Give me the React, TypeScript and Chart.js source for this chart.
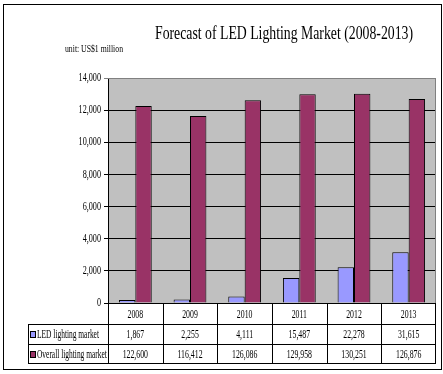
import React, { useEffect, useRef } from "react";
import { Chart, registerables } from "chart.js";

Chart.register(...registerables);

const titleText = "Forecast of LED Lighting Market (2008-2013)";
const unitText = "unit: US$1 million";
const years = ["2008", "2009", "2010", "2011", "2012", "2013"];
const seriesNames = ["LED lighting market", "Overall lighting market"];
const ledValues = [186.7, 225.5, 411.1, 1548.7, 2227.8, 3161.5];
const overallValues = [12260, 11641.2, 12608.6, 12995.8, 13025.1, 12687.6];
const ledLabels = ["1,867", "2,255", "4,111", "15,487", "22,278", "31,615"];
const overallLabels = ["122,600", "116,412", "126,086", "129,958", "130,251", "126,876"];
const yMin = 0;
const yMax = 14000;
const yStep = 2000;

const LED_COLOR = "#9999FF";
const OVERALL_COLOR = "#993366";
const FONT = '"Liberation Serif", "Times New Roman", serif';

function drawText(
  ctx: CanvasRenderingContext2D,
  s: string,
  x: number,
  y: number,
  align: CanvasTextAlign,
  size: number,
  sx: number
) {
  ctx.save();
  ctx.font = `${size}px ${FONT}`;
  ctx.fillStyle = "#000";
  ctx.textBaseline = "middle";
  ctx.textAlign = align;
  ctx.translate(x, y);
  ctx.scale(sx, 1);
  ctx.fillText(s, 0, 0);
  ctx.restore();
}

function drawFitted(
  ctx: CanvasRenderingContext2D,
  s: string,
  cx: number,
  y: number,
  size: number,
  width: number
) {
  ctx.save();
  ctx.font = `${size}px ${FONT}`;
  const w = ctx.measureText(s).width;
  ctx.restore();
  drawText(ctx, s, cx, y, "center", size, width / w);
}

const decorPlugin = {
  id: "decor",
  beforeDraw(chart: any) {
    const { ctx, chartArea: a } = chart;
    ctx.save();
    ctx.fillStyle = "#fff";
    ctx.fillRect(0, 0, chart.width, chart.height);
    ctx.fillStyle = "#C0C0C0";
    ctx.fillRect(a.left, a.top, a.right - a.left, a.bottom - a.top);
    ctx.restore();
  },
  beforeDatasetsDraw(chart: any) {
    const { ctx, chartArea: a } = chart;
    ctx.save();
    ctx.strokeStyle = "#808080";
    ctx.lineWidth = 1;
    ctx.beginPath();
    ctx.moveTo(a.left, Math.round(a.top) + 0.5);
    ctx.lineTo(Math.round(a.right) - 0.5, Math.round(a.top) + 0.5);
    ctx.lineTo(Math.round(a.right) - 0.5, a.bottom);
    ctx.stroke();
    ctx.restore();
  },
  afterDraw(chart: any) {
    const { ctx, chartArea: a } = chart;
    const xs = chart.scales.x;
    const ys = chart.scales.y;
    // title & unit
    drawFitted(ctx, titleText, 284, 34, 19, 258);
    drawFitted(ctx, unitText, 94, 49, 10, 58);
    // y tick labels
    for (let v = yMin; v <= yMax; v += yStep) {
      drawText(ctx, v.toLocaleString("en-US"), 101, ys.getPixelForValue(v), "right", 12, 0.68);
    }
    // table
    const catW = xs.getPixelForValue(1) - xs.getPixelForValue(0);
    const right = a.right;
    const top = a.bottom;
    const rows = [top, top + 21, top + 41, top + 60];
    const tableLeft = 28;
    ctx.save();
    ctx.strokeStyle = "#000";
    ctx.lineWidth = 1;
    ctx.beginPath();
    for (let i = 0; i <= years.length; i++) {
      const x = Math.round(xs.getPixelForValue(i) - catW / 2) + 0.5;
      ctx.moveTo(Math.min(x, Math.round(right) - 0.5), top);
      ctx.lineTo(Math.min(x, Math.round(right) - 0.5), rows[3]);
    }
    for (let r = 1; r <= 3; r++) {
      const y = Math.round(rows[r]) + 0.5;
      ctx.moveTo(tableLeft, y);
      ctx.lineTo(right, y);
    }
    ctx.moveTo(tableLeft + 0.5, rows[1]);
    ctx.lineTo(tableLeft + 0.5, rows[3] + 1);
    ctx.stroke();
    // outer border
    ctx.strokeRect(3.5, 4.5, 438, 365);
    ctx.restore();

    for (let i = 0; i < years.length; i++) {
      const cx = xs.getPixelForValue(i);
      drawText(ctx, years[i], cx, (rows[0] + rows[1]) / 2 + 1, "center", 12, 0.65);
      drawText(ctx, ledLabels[i], cx, (rows[1] + rows[2]) / 2 + 1, "center", 12, 0.65);
      drawText(ctx, overallLabels[i], cx, (rows[2] + rows[3]) / 2 + 1, "center", 12, 0.65);
    }
    const colors = [LED_COLOR, OVERALL_COLOR];
    for (let r = 0; r < 2; r++) {
      const cy = (rows[r + 1] + rows[r + 2]) / 2;
      ctx.save();
      ctx.fillStyle = colors[r];
      ctx.fillRect(30, Math.round(cy) - 3, 5, 7);
      ctx.strokeStyle = "#000";
      ctx.strokeRect(30.5, Math.round(cy) - 2.5, 5, 6);
      ctx.restore();
      drawText(ctx, seriesNames[r], 37, cy + 1, "left", 12, 0.62);
    }
  },
};

export default function App() {
  const ref = useRef<HTMLCanvasElement | null>(null);
  useEffect(() => {
    if (!ref.current) return;
    const chart = new Chart(ref.current, {
      type: "bar",
      data: {
        labels: years,
        datasets: [
          {
            label: seriesNames[0],
            data: ledValues,
            backgroundColor: LED_COLOR,
            borderColor: "#000",
            borderWidth: 1,
          },
          {
            label: seriesNames[1],
            data: overallValues,
            backgroundColor: OVERALL_COLOR,
            borderColor: "#000",
            borderWidth: 1,
          },
        ],
      },
      options: {
        responsive: false,
        animation: false,
        devicePixelRatio: 1,
        layout: { padding: { left: 78, right: 7, top: 78, bottom: 71 } },
        plugins: {
          legend: { display: false },
          title: { display: false },
          tooltip: { enabled: false },
        },
        datasets: { bar: { barPercentage: 1, categoryPercentage: 0.6 } },
        scales: {
          x: { display: false },
          y: {
            min: yMin,
            max: yMax,
            afterFit: (s: any) => {
              s.width = 30;
            },
            ticks: { stepSize: yStep, display: false },
            grid: {
              color: (c: any) => (c.tick && c.tick.value === yMax ? "#808080" : "#000"),
              lineWidth: 1,
              drawTicks: true,
              tickLength: 4,
            },
            border: { color: "#000", width: 1 },
          },
        },
      },
      plugins: [decorPlugin],
    });
    return () => chart.destroy();
  }, []);
  return (
    <div style={{ position: "fixed", left: 0, top: 0, width: 443, height: 374, background: "#fff" }}>
      <canvas ref={ref} width={443} height={374} style={{ display: "block" }} />
    </div>
  );
}
